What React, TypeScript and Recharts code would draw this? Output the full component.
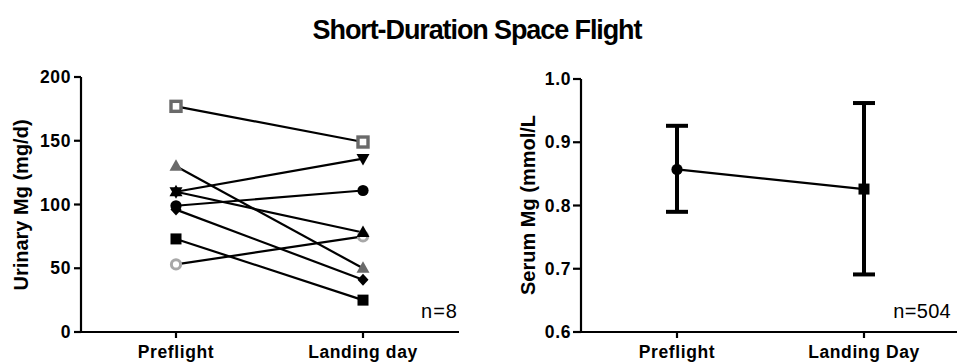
import React from 'react';
import { LineChart, Line, XAxis, YAxis, ErrorBar } from 'recharts';

// ---------- Data ----------
const urinaryCategories = ['Preflight', 'Landing day'];
const urinaryTicks = [0, 50, 100, 150, 200];
const subjOpenSquare = [177, 149];
const subjGrayTriangle = [130, 50];
const subjDownTriangle = [110, 136];
const subjUpTriangle = [110, 78];
const subjCircle = [99, 111];
const subjDiamond = [96, 41];
const subjSquare = [73, 25];
const subjOpenCircle = [53, 75];

const serumCategories = ['Preflight', 'Landing Day'];
const serumTicks = [0.6, 0.7, 0.8, 0.9, 1.0];
const serumMean = [0.857, 0.826];
const serumLower = [0.79, 0.691];
const serumUpper = [0.926, 0.962];

// ---------- Styling config ----------
const FONT = '"Liberation Sans", Arial, Helvetica, sans-serif';

const urinarySeries = [
  { key: 'openCircle', values: subjOpenCircle, shape: 'openCircle', color: '#a8a8a8' },
  { key: 'square', values: subjSquare, shape: 'square', color: '#000' },
  { key: 'grayTriangle', values: subjGrayTriangle, shape: 'triUp', color: '#6a6a6a' },
  { key: 'diamond', values: subjDiamond, shape: 'diamond', color: '#000' },
  { key: 'circle', values: subjCircle, shape: 'circle', color: '#000' },
  { key: 'upTriangle', values: subjUpTriangle, shape: 'triUp', color: '#000' },
  { key: 'downTriangle', values: subjDownTriangle, shape: 'triDown', color: '#000' },
  { key: 'openSquare', values: subjOpenSquare, shape: 'openSquare', color: '#6a6a6a' },
];

const urinaryData = urinaryCategories.map((name, i) => {
  const row: any = { name };
  urinarySeries.forEach((s) => {
    row[s.key] = s.values[i];
  });
  return row;
});

const serumData = serumCategories.map((name, i) => ({
  name,
  mean: serumMean[i],
  err: [serumMean[i] - serumLower[i], serumUpper[i] - serumMean[i]],
}));
const serumShapes = ['circle', 'square'];

// ---------- Markers ----------
function marker(shape: string, color: string, cx: number, cy: number, key: any) {
  if (cx == null || cy == null) return <g key={key} />;
  switch (shape) {
    case 'openSquare':
      return (
        <rect key={key} x={cx - 5} y={cy - 5} width={10} height={10} fill="#fff" stroke={color} strokeWidth={3.4} />
      );
    case 'square':
      return <rect key={key} x={cx - 5.5} y={cy - 5.5} width={11} height={11} fill={color} />;
    case 'circle':
      return <circle key={key} cx={cx} cy={cy} r={5.6} fill={color} />;
    case 'openCircle':
      return <circle key={key} cx={cx} cy={cy} r={4.6} fill="#fff" stroke={color} strokeWidth={3} />;
    case 'triUp':
      return (
        <polygon
          key={key}
          points={`${cx},${cy - 7} ${cx + 6.5},${cy + 4.5} ${cx - 6.5},${cy + 4.5}`}
          fill={color}
        />
      );
    case 'triDown':
      return (
        <polygon
          key={key}
          points={`${cx},${cy + 7} ${cx + 6.5},${cy - 4.5} ${cx - 6.5},${cy - 4.5}`}
          fill={color}
        />
      );
    case 'diamond':
      return (
        <polygon
          key={key}
          points={`${cx},${cy - 6} ${cx + 5.5},${cy} ${cx},${cy + 6} ${cx - 5.5},${cy}`}
          fill={color}
        />
      );
    default:
      return <g key={key} />;
  }
}

// ---------- Ticks ----------
const XTick = (props: any) => {
  const { x, y, payload } = props;
  return (
    <text
      x={x}
      y={y + 18}
      textAnchor="middle"
      fontFamily={FONT}
      fontWeight="bold"
      fontSize={17.5}
      letterSpacing={0.6}
      fill="#000"
    >
      {payload.value}
    </text>
  );
};

const makeYTick = (fmt: (v: number) => string) => (props: any) => {
  const { x, y, payload } = props;
  return (
    <text
      x={x}
      y={y + 6}
      textAnchor="end"
      fontFamily={FONT}
      fontWeight="bold"
      fontSize={17.5}
      letterSpacing={0.6}
      fill="#000"
    >
      {fmt(payload.value)}
    </text>
  );
};

const axisLine = { stroke: '#000', strokeWidth: 2.2 };
const tickLine = { stroke: '#000', strokeWidth: 2.2 };

export default function App() {
  return (
    <div
      style={{
        position: 'absolute',
        left: 0,
        top: 0,
        width: 957,
        height: 362,
        background: '#fff',
        overflow: 'hidden',
      }}
    >
      {/* Left chart: Urinary Mg */}
      <div style={{ position: 'absolute', left: 0, top: 0 }}>
        <LineChart width={480} height={362} data={urinaryData} margin={{ top: 77, right: 21, bottom: 0, left: 0 }}>
          <XAxis
            dataKey="name"
            type="category"
            padding={{ left: 95, right: 96 }}
            height={30}
            tickSize={6}
            axisLine={axisLine}
            tickLine={tickLine}
            tick={<XTick />}
            interval={0}
          />
          <YAxis
            type="number"
            domain={[0, 200]}
            ticks={urinaryTicks}
            width={81}
            tickSize={7}
            tickMargin={3}
            axisLine={axisLine}
            tickLine={tickLine}
            tick={makeYTick((v) => String(v))}
            interval={0}
          />
          {urinarySeries.map((s) => (
            <Line
              key={s.key}
              dataKey={s.key}
              type="linear"
              stroke="#000"
              strokeWidth={2.2}
              isAnimationActive={false}
              dot={(p: any) => marker(s.shape, s.color, p.cx, p.cy, `${s.key}-${p.index}`)}
              activeDot={false}
            />
          ))}
        </LineChart>
      </div>

      {/* Right chart: Serum Mg */}
      <div style={{ position: 'absolute', left: 480, top: 0 }}>
        <LineChart width={477} height={362} data={serumData} margin={{ top: 79, right: 0, bottom: 0, left: 0 }}>
          <XAxis
            dataKey="name"
            type="category"
            padding={{ left: 96, right: 93 }}
            height={30}
            tickSize={6}
            axisLine={axisLine}
            tickLine={tickLine}
            tick={<XTick />}
            interval={0}
          />
          <YAxis
            type="number"
            domain={[0.6, 1.0]}
            ticks={serumTicks}
            allowDataOverflow
            width={101}
            tickSize={8}
            tickMargin={2}
            axisLine={axisLine}
            tickLine={tickLine}
            tick={makeYTick((v) => v.toFixed(1))}
            interval={0}
          />
          <Line
            dataKey="mean"
            type="linear"
            stroke="#000"
            strokeWidth={2.2}
            isAnimationActive={false}
            dot={(p: any) => marker(serumShapes[p.index], '#000', p.cx, p.cy, `serum-${p.index}`)}
            activeDot={false}
          >
            <ErrorBar dataKey="err" direction="y" width={11} strokeWidth={4} stroke="#000" isAnimationActive={false} />
          </Line>
        </LineChart>
      </div>

      {/* Title, axis titles, n labels */}
      <svg
        width={957}
        height={362}
        style={{ position: 'absolute', left: 0, top: 0, pointerEvents: 'none' }}
      >
        <text
          x={477}
          y={39}
          textAnchor="middle"
          fontFamily={FONT}
          fontWeight="bold"
          fontSize={27}
          letterSpacing={-1.1}
          fill="#000"
        >
          Short-Duration Space Flight
        </text>
        <text
          transform="translate(28,205) rotate(-90)"
          textAnchor="middle"
          fontFamily={FONT}
          fontWeight="bold"
          fontSize={20}
          fill="#000"
        >
          Urinary Mg (mg/d)
        </text>
        <text
          transform="translate(535,205) rotate(-90)"
          textAnchor="middle"
          fontFamily={FONT}
          fontWeight="bold"
          fontSize={20}
          fill="#000"
        >
          Serum Mg (mmol/L
        </text>
        <text x={458} y={318} textAnchor="end" fontFamily={FONT} fontSize={20} letterSpacing={1} fill="#000">
          n=8
        </text>
        <text x={951} y={318} textAnchor="end" fontFamily={FONT} fontSize={20} letterSpacing={0.3} fill="#000">
          n=504
        </text>
      </svg>
    </div>
  );
}
